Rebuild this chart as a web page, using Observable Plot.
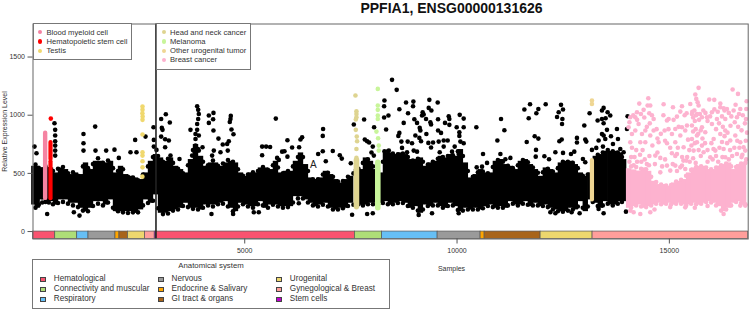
<!DOCTYPE html>
<html>
<head>
<meta charset="utf-8">
<script src="https://cdn.jsdelivr.net/npm/d3@7"></script>
<script src="https://cdn.jsdelivr.net/npm/@observablehq/plot@0.6"></script>
<style>
html,body{margin:0;padding:0;background:#fff;}
#wrap{position:relative;width:749px;height:310px;overflow:hidden;font-family:"Liberation Sans",Arial,sans-serif;color:#333;}
#wrap svg{position:absolute;left:0;top:0;}
.abs{position:absolute;white-space:nowrap;line-height:1;}
.box{position:absolute;background:#fff;border:1px solid #777;box-sizing:border-box;}
</style>
</head>
<body>
<div id="wrap"></div>
<script>
const titleText = "PPFIA1, ENSG00000131626";
const yLabel = "Relative Expression Level";
const xLabel = "Samples";
const xTicks = [5000, 10000, 15000];
const yTicks = [0, 500, 1000, 1500];

// Anatomical-system strip: name, first sample, last sample
const systemColors = {
  "Hematological": "#F9536F", "Connectivity and muscular": "#AEDD77", "Respiratory": "#66BFF5",
  "Nervous": "#9A9A9A", "Endocrine & Salivary": "#FFA500", "GI tract & organs": "#A8641A",
  "Urogenital": "#EDD76E", "Gynegological & Breast": "#FF9E9B", "Stem cells": "#C000D0"
};
const strip = [
  ["Hematological",14,537],["Connectivity and muscular",537,1055],["Respiratory",1055,1321],
  ["Nervous",1321,1956],["Endocrine & Salivary",1956,2050],["GI tract & organs",2050,2251],
  ["Urogenital",2251,2651],["Gynegological & Breast",2651,2881],["Stem cells",2881,2910],
  ["Hematological",2910,7594],["Connectivity and muscular",7594,8234],["Respiratory",8234,9543],
  ["Nervous",9543,10555],["Endocrine & Salivary",10555,10650],["GI tract & organs",10650,11968],
  ["Urogenital",11968,13192],["Gynegological & Breast",13192,16857]
];
const systemLegend = [
  ["Hematological","Connectivity and muscular","Respiratory"],
  ["Nervous","Endocrine & Salivary","GI tract & organs"],
  ["Urogenital","Gynegological & Breast","Stem cells"]
];
const leftHighlights = [["Blood myeloid cell","#F583A2"],["Hematopoietic stem cell","#FF0000"],["Testis","#F0D86E"]];
const rightHighlights = [["Head and neck cancer","#DED490"],["Melanoma","#C8F59A"],["Other urogenital tumor","#EFD693"],["Breast cancer","#FDB2CF"]];
const stemLine = [2910];

// Dense sample mass: sample position, low expression, high expression
const blackBand = [
[34,228,561],[112,200,561],[190,272,547],[269,272,547],[348,257,547],[426,257,547],[544,228,504],[662,272,547],[779,272,533],[897,243,490],
[1015,243,504],[1133,200,490],[1250,171,590],[1368,200,533],[1486,257,604],[1604,257,604],[1721,228,590],[1839,272,604],[1957,171,504],[2075,171,561],
[2192,171,490],[2310,171,475],[2428,157,461],[2546,186,447],[2663,272,504],[2781,243,604],[2899,315,662],[3017,157,633],[3134,157,604],[3252,171,633],
[3370,186,561],[3488,200,533],[3605,243,504],[3723,200,619],[3841,200,748],[3959,186,647],[4076,228,561],[4194,228,590],[4311,228,590],[4429,243,561],
[4546,257,590],[4664,200,604],[4782,171,590],[4900,243,504],[5017,228,475],[5135,214,504],[5253,214,504],[5371,257,547],[5488,200,547],[5606,228,533],
[5724,228,604],[5842,214,504],[5959,214,518],[6077,214,518],[6195,300,604],[6313,300,676],[6430,272,576],[6548,243,461],[6666,214,447],[6784,228,461],
[6901,243,518],[7019,200,490],[7137,186,447],[7255,200,418],[7372,200,447],[7490,243,475],[7631,243,533],[7725,228,533],[7843,228,633],[7961,243,604],
[8079,243,533],[8197,243,504],[8314,257,676],[8430,228,676],[8548,243,662],[8666,257,676],[8783,243,662],[8901,200,619],[9019,214,619],[9137,157,633],
[9254,228,561],[9372,214,590],[9490,243,604],[9608,214,647],[9725,200,633],[9843,243,662],[9961,214,647],[10079,171,705],[10196,200,590],[10314,186,461],
[10432,200,490],[10550,186,533],[10667,214,504],[10785,228,504],[10903,200,604],[11021,214,619],[11138,200,576],[11256,257,561],[11374,228,533],[11492,228,604],
[11609,257,619],[11727,214,576],[11845,243,533],[11963,214,475],[12080,228,547],[12198,200,533],[12316,186,504],[12434,171,590],[12551,171,604],[12669,200,604],
[12785,186,576],[12903,257,504],[13020,171,475],[13138,272,504],[13256,243,647],[13374,200,662],[13491,257,690],[13609,228,690],[13727,228,690],[13845,257,676],
[13923,257,619]
];
const blackTopFringe = [
[73,575],[151,545],[230,530],[308,560],[387,535],[485,520],[603,540],[720,555],[838,500],[956,510],
[1074,480],[1191,560],[1309,545],[1427,580],[1545,630],[1662,590],[1780,610],[1898,545],[2016,520],[2133,535],
[2251,470],[2369,465],[2487,440],[2604,490],[2722,560],[2840,640],[2958,650],[3075,600],[3193,625],[3311,590],
[3429,540],[3546,500],[3664,570],[3782,700],[3900,710],[4017,600],[4135,570],[4252,610],[4370,565],[4488,585],
[4605,615],[4723,600],[4841,535],[4959,480],[5076,490],[5194,510],[5312,520],[5430,555],[5547,530],[5665,570],
[5783,550],[5900,500],[6018,520],[6136,560],[6254,640],[6371,640],[6489,520],[6607,450],[6725,450],[6842,490],
[6960,505],[7078,470],[7196,430],[7313,435],[7431,470],[7560,500],[7678,540],[7784,590],[7902,620],[8020,560],
[8138,520],[8255,600],[8372,690],[8489,670],[8607,665],[8725,670],[8842,640],[8960,610],[9078,625],[9196,600],
[9313,575],[9431,600],[9549,625],[9667,640],[9784,650],[9902,655],[10020,690],[10138,650],[10255,520],[10373,470],
[10491,510],[10609,515],[10726,500],[10844,555],[10962,615],[11080,600],[11197,565],[11315,545],[11433,570],[11551,615],
[11668,595],[11786,550],[11904,505],[12022,510],[12139,540],[12257,515],[12375,545],[12493,600],[12610,600],[12727,590],
[12844,545],[12962,480],[13079,490],[13197,570],[13315,660],[13433,680],[13550,700],[13668,690],[13786,680],[13884,640]
];
const blackBottomFringe = [
[73,205],[151,230],[230,250],[308,255],[387,250],[485,235],[603,245],[720,255],[838,240],[956,225],
[1074,210],[1191,180],[1309,175],[1427,220],[1545,240],[1662,225],[1780,250],[1898,205],[2016,175],[2133,165],
[2251,160],[2369,165],[2487,165],[2604,225],[2722,245],[2840,265],[2958,200],[3075,150],[3193,155],[3311,180],
[3429,190],[3546,220],[3664,210],[3782,195],[3900,190],[4017,205],[4135,225],[4252,215],[4370,235],[4488,240],
[4605,215],[4723,175],[4841,215],[4959,235],[5076,215],[5194,205],[5312,235],[5430,225],[5547,205],[5665,230],
[5783,215],[5900,205],[6018,210],[6136,250],[6254,285],[6371,285],[6489,250],[6607,225],[6725,215],[6842,230],
[6960,215],[7078,190],[7196,190],[7313,200],[7431,220],[7560,230],[7678,235],[7784,225],[7902,235],[8020,235],
[8138,235],[8255,245],[8372,235],[8489,235],[8607,245],[8725,245],[8842,220],[8960,205],[9078,180],[9196,190],
[9313,220],[9431,225],[9549,225],[9667,205],[9784,220],[9902,225],[10020,185],[10138,180],[10255,190],[10373,190],
[10491,190],[10609,200],[10726,220],[10844,210],[10962,205],[11080,205],[11197,225],[11315,240],[11433,225],[11551,240],
[11668,230],[11786,225],[11904,225],[12022,220],[12139,210],[12257,190],[12375,175],[12493,170],[12610,180],[12727,190],
[12844,215],[12962,205],[13079,215],[13197,255],[13315,220],[13433,225],[13550,240],[13668,225],[13786,240],[13884,255]
];
const blackDots = [
[49,730],[96,673],[520,931],[536,874],[536,825],[536,776],[536,739],[536,696],[536,653],[1203,839],[1203,759],[1203,696],[1478,902],[1486,696],[1737,696],[1933,704],[2035,633],[2310,682],[2420,788],[2451,682],[2663,816],[2852,897],[2860,788],[2922,702],[2860,730],[3032,968],[3142,1008],[3236,937],[3048,891],[3064,874],[3032,816],[3126,793],[3213,782],[3126,725],[3723,874],[3880,1077],[3904,1046],[3919,1011],[3904,968],[3880,925],[3880,874],[3841,839],[3841,796],[3841,739],[4155,997],[4155,934],[4006,725],[3464,624],[3252,653],[976,166],[1109,137],[348,151],[3802,696],[3919,696],[3762,653],[3919,825],
[4264,1020],[4256,965],[4264,868],[4672,994],[4664,968],[4648,942],[4688,877],[4735,836],[4381,799],[4625,776],[4586,753],[4483,748],[4601,696],[4429,682],[4272,696],[4232,653],[5410,730],[5504,730],[5598,727],[5410,656],[5732,971],[6006,785],[6313,791],[6352,811],[6116,722],[6006,644],[5936,690],[5881,687],[6281,725],[6846,882],[6838,822],[6838,690],[6729,667],[7074,693],[7239,656],[7286,627],[6909,604],[7498,587],[7569,920],[7812,963],[7828,791],[7883,776],[7930,765],[8016,730],[7985,679],[8040,653],[8291,1126],[8283,1077],[8385,997],[8283,980],[8330,877],[8047,897],[8291,690],[8393,696],[5763,633],[5802,616],[4727,151],[5213,166],[5331,166],[7529,145],[7883,151],[8016,157],[6273,243],[4217,151],
[8469,1304],[8579,1218],[8799,1109],[8972,1117],[8964,1077],[9348,1132],[9545,1109],[8642,1051],[9333,1063],[9396,1040],[8846,1017],[9191,1026],[9215,1006],[9176,997],[9270,968],[9372,940],[9388,920],[8995,965],[9058,934],[9553,965],[9717,934],[9804,991],[9819,968],[9819,917],[10063,1003],[10157,971],[9992,897],[10157,897],[8744,934],[9121,891],[9137,868],[9553,868],[9623,848],[9278,839],[9019,825],[8642,848],[8618,822],[10055,854],[10055,822],[9113,805],[9152,776],[8689,773],[8838,773],[8940,759],[9325,762],[9435,765],[9568,773],[9686,782],[9780,782],[10079,773],[10157,759],[9686,730],[9388,722],[8980,696],[9058,687],[8823,682],[8705,719],[9592,682],[9882,687],[9945,730],[10039,667],[10455,897],[11036,968],[11115,871],[10950,782],[10612,667],[11021,667],[11586,1049],[11719,1094],[11915,1054],[11868,1017],[11688,974],[12088,1094],[12449,1089],[12496,1049],[12394,1026],[12355,985],[12481,968],[12473,925],[11829,819],[11915,799],[11641,770],[12465,791],[12410,776],[11860,702],[11853,644],[12057,647],[12316,682],[12496,676],[12167,621],[11256,633],[11138,621],[10707,590],[10463,552],[10589,558],[9097,143],[9411,157],[10039,157],[12198,166],[12316,157],
[13122,1017],[12997,911],[13452,1063],[13413,1040],[13546,1026],[13609,997],[13499,974],[13413,968],[13311,954],[13452,931],[13766,882],[13531,874],[13413,839],[13452,825],[13625,819],[12824,805],[12824,765],[13020,791],[13044,773],[13790,796],[14017,991],[14002,882],[13672,753],[13491,796],[13334,782],[13279,719],[13177,702],[13436,730],[13844,710],[12761,687],[12965,624],[13020,596],[13923,682],[12683,667],[13978,171],[13452,157],[13334,194],[12887,157],[12698,166]
];

// Highlighted groups
const bloodMyeloid = [[300,285,845]];
const stemCell = [[426,283,600],[426,620,765]];
const stemDots = [[434,971]];
const testisDots = [[2593,1074],[2593,1046],[2590,1017],[2596,988],[2593,960],[2593,834],[2593,682],[2593,653],[2593,604],[2593,552],[2590,472]];
const headNeckBand = [[7631,210,610]];
const headNeckDots = [[7608,1169],[7631,1034],[7631,1011],[7631,983],[7616,963],[7616,874],[7639,816],[7647,776],[7631,710],[7631,633]];
const melanomaBand = [[8134,200,590]];
const melanomaDots = [[8134,1226],[8134,1083],[8134,1046],[8134,997],[8134,968],[8102,859],[8141,802],[8157,739],[8157,696]];
const uroBand = [[13177,272,610]];
const uroDots = [[13177,1126],[13177,1097]];
const breastBand = [
[14041,200,540],[14159,214,530],[14276,228,520],[14394,200,547],[14512,214,518],[14630,228,432],[14747,243,404],[14865,228,404],[14983,243,389],[15101,228,418],
[15218,243,432],[15336,228,447],[15454,228,504],[15572,243,547],[15689,228,561],[15807,243,561],[15925,257,533],[16043,243,533],[16160,214,561],[16278,171,576],
[16396,200,590],[16514,243,533],[16631,257,576],[16749,228,590]
];
const breastTopFringe = [
[14100,560],[14218,555],[14335,540],[14453,535],[14571,470],[14689,425],[14806,405],[14924,395],[15042,400],[15160,430],[15277,445],[15395,480],
[15513,530],[15630,555],[15748,560],[15866,550],[15984,535],[16101,550],[16219,570],[16337,585],[16455,560],[16572,555],[16690,585],[16790,590]
];
const breastBottomFringe = [
[14100,205],[14218,225],[14335,215],[14453,210],[14571,225],[14689,240],[14806,235],[14924,240],[15042,235],[15160,240],[15277,240],[15395,225],
[15513,240],[15630,235],[15748,240],[15866,255],[15984,250],[16101,225],[16219,180],[16337,190],[16455,225],[16572,255],[16690,245],[16790,235]
];
const breastDots = [
[15689,1235],[16490,1221],[16616,1183],[14504,1146],[15611,1178],[15634,1140],[15666,1112],[15689,1083],[16058,1132],[15940,1135],[14292,1100],[14865,1094],[15493,1097],[14488,1083],[14551,1083],[15085,1069],[15297,1077],[15258,1031],[15407,1017],[14394,1046],[14237,1026],[14527,1017],[14080,983],[14630,968],[14276,925],[14198,983],[14983,968],[14944,954],[15179,988],[15532,1011],[15650,1011],[15768,983],[15886,983],[16003,1026],[16200,1069],[16357,1054],[16514,1040],[16671,1054],[16812,1054],[16804,968],[16592,983],[16317,968],[16121,968],[16003,925],[15768,897],[15846,854],[15532,911],[15140,882],[14889,868],[15297,897],[15061,839],[15258,825],[14630,868],[14434,868],[14198,868],[14041,897],[14119,839],[14355,839],[14551,825],[14316,768],[14080,768],[14434,768],[14747,768],[14944,759],[15140,768],[15336,725],[15532,796],[15650,768],[15768,739],[16043,796],[16317,868],[16553,825],[16671,768],[16749,725],[16278,710],[16082,696],[15807,682],[15964,639],[16317,639],[16592,667],[15572,696],[15061,673],[15179,667],[14669,653],[14787,633],[14944,567],[15140,567],[15258,552],[15399,610],[15297,567],[15375,538],[14787,509],[15022,524],[16788,696],[16435,782],[16200,839],[15650,825],[15415,911],[15375,868],[14159,166],[14316,151],[14551,166],[15375,208],[16278,151],[16671,223],[16788,223],
[15540,1030],[15590,1040],[15630,1000],[15720,1010],[15700,960],[15600,950],[15560,980],[15800,1040],[15850,1020],[15900,950],[15960,990],[15560,860],[15620,880],[15680,840],[15740,870],[15780,800],[15520,740],[15600,760],[15690,700],[15740,650],[15840,760],[15900,700],[15990,760],[16040,710],[16100,650],[16180,720],[16240,770],[16300,820],[16360,760],[16430,700],[16480,650],[16530,720],[16600,780],[16650,720],[16720,660],[16800,780],[16830,850],[16700,870],[16620,900],[16540,940],[16460,990],[16400,1020],[16300,1040],[16240,990],[16170,930],[16100,880],[16060,1050],[16140,1030],[16200,1100],[16280,1060],[16560,1090],[16640,1010],[16730,1000],[16820,1120],[16780,930],[16440,910],[16370,850],[16260,900],
[14060,940],[14150,1000],[14240,960],[14330,1010],[14410,980],[14470,900],[14540,930],[14590,1000],[14700,880],[14720,800],[14800,840],[14860,1000],[14900,780],[14980,880],[15020,720],[15100,960],[15140,650],[15200,720],[15220,900],[15300,640],[15360,1000],[15440,790],[15470,700],[15420,640],[14120,720],[14180,640],[14240,600],[14310,660],[14370,700],[14420,620],[14470,580],[14530,650],[14600,740],[14660,580],[14720,680],[14830,560],[14900,620],[14060,600],[14100,640],[14160,570],[14220,700],[14340,600],[14520,570],[15080,580],[15180,520],[15330,610],[15480,600],[15560,630],[15620,590],[15900,600],[16020,620],[16150,600],[16250,640],[16400,620],[16700,640],[16810,620],[14080,180],[14650,190],[15020,210],[15600,205],[15900,220]
];
const strayGlyph = [[6617,576,"A"]];

const band = (rows, color, width, cap) => Plot.ruleX(rows, {x: d => d[0], y1: d => d[1], y2: d => d[2], stroke: color, strokeWidth: width, strokeLinecap: cap});
const dots = (rows, color) => Plot.dot(rows, {x: d => d[0], y: d => d[1], r: 2.3, fill: color, stroke: "none"});

const chart = Plot.plot({
  width: 749, height: 310,
  marginLeft: 32.5, marginRight: 1.3, marginTop: 23.5, marginBottom: 71.5,
  x: {domain: [14, 16857], range: [32.5, 747.7]},
  y: {domain: [-64, 1784], range: [238.5, 23.5]},
  style: {fontFamily: '"Liberation Sans",Arial,sans-serif', background: "#fff", color: "#333"},
  marks: [
    band(blackBand, "#000", 5.4, "butt"),
    dots(blackTopFringe, "#000"),
    dots(blackBottomFringe, "#000"),
    dots(blackDots, "#000"),
    Plot.text(strayGlyph, {x: d => d[0], y: d => d[1], text: d => d[2], fontSize: 10, fill: "#222"}),
    band(bloodMyeloid, "#F583A2", 4.4, "round"),
    band(stemCell, "#FF0000", 4.2, "round"),
    dots(stemDots, "#FF0000"),
    dots(testisDots, "#F0D86E"),
    band(headNeckBand, "#DED490", 5.6, "round"),
    dots(headNeckDots, "#DED490"),
    band(melanomaBand, "#C8F59A", 5.6, "round"),
    dots(melanomaDots, "#C8F59A"),
    band(uroBand, "#EFD693", 4.2, "round"),
    dots(uroDots, "#EFD693"),
    band(breastBand, "#FDB2CF", 5.4, "butt"),
    dots(breastTopFringe, "#FDB2CF"),
    dots(breastBottomFringe, "#FDB2CF"),
    dots(breastDots, "#FDB2CF"),
    Plot.rect(strip, {x1: d => d[1], x2: d => d[2], y1: -64, y2: 0, fill: d => systemColors[d[0]], stroke: "#555", strokeWidth: 0.7}),
    Plot.ruleX(stemLine, {stroke: "#222", strokeWidth: 1.6}),
    Plot.frame({stroke: "#666", strokeWidth: 1}),
    Plot.axisX({ticks: xTicks, tickSize: 5, tickPadding: 4, label: null, fontSize: 7, stroke: "#555", tickFormat: d => String(d)}),
    Plot.axisY({ticks: yTicks, tickSize: 5, tickPadding: 3, fontSize: 7, stroke: "#555", tickFormat: d => String(d),
      label: yLabel, labelAnchor: "center", labelArrow: "none", labelOffset: 31})
  ]
});

const wrap = document.getElementById("wrap");
wrap.appendChild(chart);
function el(cls, css, text) {
  const d = document.createElement("div");
  d.className = cls;
  Object.assign(d.style, css);
  if (text != null) d.textContent = text;
  wrap.appendChild(d);
  return d;
}
el("abs", {left: "451.5px", top: "0.5px", transform: "translateX(-50%)", fontSize: "14px", fontWeight: "bold", color: "#111"}, titleText);
el("abs", {left: "451.5px", top: "264.5px", transform: "translateX(-50%)", fontSize: "7px"}, xLabel);

function highlightBox(items, left, width, height) {
  el("box", {left: left + "px", top: "23px", width: width + "px", height: height + "px"});
  const rowY = [32.3, 41.6, 50.7, 60];
  items.forEach(([name, color], i) => {
    el("abs", {left: (left + 5.5) + "px", top: (rowY[i] - 2.2) + "px", width: "4.4px", height: "4.4px", borderRadius: "50%", background: color});
    el("abs", {left: (left + 14) + "px", top: (rowY[i] - 3.8) + "px", fontSize: "7.64px"}, name);
  });
}
highlightBox(leftHighlights, 32.5, 99.5, 37);
highlightBox(rightHighlights, 156, 94.5, 46.5);

el("box", {left: "32px", top: "259px", width: "358px", height: "49.5px"});
el("abs", {left: "211px", top: "262px", transform: "translateX(-50%)", fontSize: "7.8px"}, "Anatomical system");
const colX = [40, 157.7, 276];
const sysRowY = [279, 289, 299];
systemLegend.forEach((col, c) => col.forEach((name, r) => {
  el("abs", {left: colX[c] + "px", top: (sysRowY[r] - 2.5) + "px", width: "6px", height: "5px", background: systemColors[name], border: "0.7px solid #444", boxSizing: "border-box"});
  el("abs", {left: (colX[c] + 13.8) + "px", top: (sysRowY[r] - 4) + "px", fontSize: "8.17px"}, name);
}));
</script>
</body>
</html>
